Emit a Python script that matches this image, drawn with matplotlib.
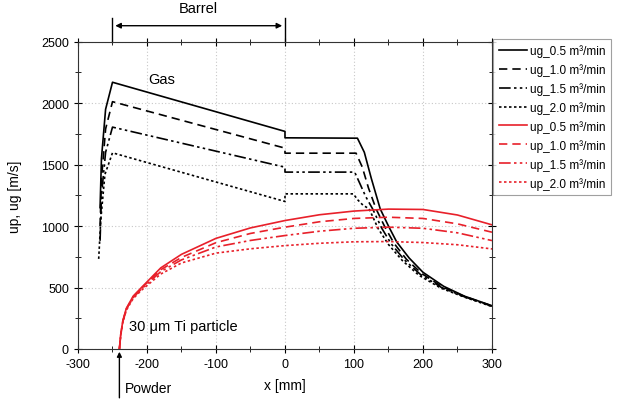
import matplotlib
matplotlib.use("Agg")
import matplotlib.pyplot as plt

plt.rcParams['font.family'] = ['Liberation Sans', 'DejaVu Sans']
plt.rcParams['axes.unicode_minus'] = False

# gas velocity (black), x in mm
ug_x = {
    "0.5": [-268, -266, -260, -250, -125, 0, 0, 105, 115, 125, 138, 150, 162, 180, 200, 230, 260, 300],
    "1.0": [-268, -266, -260, -250, -125, 0, 0, 103, 112, 121, 132, 145, 158, 176, 198, 228, 260, 300],
    "1.5": [-268, -266, -260, -250, -125, 0, 0, 101, 109, 117, 127, 140, 154, 173, 196, 227, 260, 300],
    "2.0": [-270, -267, -261, -250, -125, 0, 0, 99, 106, 113, 122, 135, 150, 170, 194, 226, 260, 300],
}
ug_y = {
    "0.5": [1150, 1550, 1950, 2170, 1970, 1770, 1718, 1715, 1600, 1390, 1140, 1000, 870, 740, 624, 510, 430, 352],
    "1.0": [1000, 1380, 1790, 2012, 1823, 1634, 1593, 1593, 1480, 1310, 1140, 990, 860, 730, 615, 505, 428, 350],
    "1.5": [880, 1250, 1600, 1805, 1642, 1479, 1439, 1439, 1340, 1240, 1140, 985, 855, 725, 608, 500, 425, 348],
    "2.0": [733, 1050, 1420, 1596, 1398, 1200, 1262, 1262, 1210, 1170, 1140, 980, 850, 720, 600, 495, 422, 345],
}

# particle velocity (red)
up_x = [-240, -238, -235, -230, -220, -208, -180, -150, -100, -50, 0, 50, 100, 150, 200, 250, 300]
up_y = {
    "0.5": [0, 120, 230, 330, 430, 500, 660, 770, 900, 985, 1045, 1092, 1122, 1138, 1135, 1090, 1010],
    "1.0": [0, 118, 226, 325, 425, 495, 645, 745, 865, 940, 991, 1035, 1062, 1072, 1062, 1018, 950],
    "1.5": [0, 116, 222, 320, 418, 488, 630, 725, 830, 883, 923, 958, 982, 991, 982, 945, 882],
    "2.0": [0, 114, 218, 315, 410, 478, 610, 700, 780, 815, 841, 860, 872, 874, 866, 848, 814],
}

flows = ["0.5", "1.0", "1.5", "2.0"]
styles = ["-", (0, (5, 3)), (0, (7, 2, 1.5, 2, 1.5, 2)), (0, (1.5, 1.5))]

fig = plt.figure(figsize=(6.2, 4.02), dpi=100)
ax = fig.add_axes([0.1258, 0.1294, 0.6677, 0.7644])

for f, ls in zip(flows, styles):
    ax.plot(ug_x[f], ug_y[f], color="black", ls=ls, lw=1.2,
            label="ug_%s m³/min" % f)
for f, ls in zip(flows, styles):
    ax.plot(up_x, up_y[f], color="#e8202a", ls=ls, lw=1.2,
            label="up_%s m³/min" % f)

ax.set_xlim(-300, 300)
ax.set_ylim(0, 2500)
ax.set_xticks(range(-300, 301, 100))
ax.set_xticks(range(-250, 300, 100), minor=True)
ax.set_yticks(range(0, 2501, 500))
ax.set_yticks(range(250, 2500, 500), minor=True)
ax.grid(True, color="#c8c8c8", ls=(0, (1, 2)), lw=0.8)
ax.tick_params(axis="both", which="both", labelsize=9, top=True, right=True,
               direction="inout")
ax.tick_params(axis="both", which="major", length=6)
ax.tick_params(axis="both", which="minor", length=4)
for s in ax.spines.values():
    s.set_color("#333333")

ax.set_xlabel("x [mm]", fontsize=10, labelpad=6)
ax.set_ylabel("up, ug [m/s]", fontsize=10, labelpad=14)

ax.text(-178, 2200, "Gas", fontsize=10.5, ha="center", va="center")
ax.text(-226, 187, "30 μm Ti particle", fontsize=10.5, ha="left", va="center")

# barrel span above the plot
ax.annotate("", xy=(-250, 2630), xytext=(0, 2630),
            arrowprops=dict(arrowstyle="<|-|>", color="black", lw=1, mutation_scale=8),
            annotation_clip=False)
for xb in (-250, 0):
    ax.plot([xb, xb], [2500, 2690], color="black", lw=1, clip_on=False)
ax.text(-125, 2720, "Barrel", fontsize=10.5, ha="center", va="bottom")

# powder inlet
ax.annotate("", xy=(-240, 0), xytext=(-240, -420),
            arrowprops=dict(arrowstyle="-|>", color="black", lw=1, mutation_scale=7),
            annotation_clip=False)
ax.text(-232, -318, "Powder", fontsize=10, ha="left", va="center")

leg = ax.legend(loc="upper left", bbox_to_anchor=(1.003, 1.01), fontsize=8.5,
                frameon=True, fancybox=False, handlelength=2.4, handletextpad=0.3,
                borderpad=0.45, labelspacing=0.52, borderaxespad=0)
leg.get_frame().set_edgecolor("#888888")
leg.get_frame().set_linewidth(0.8)

fig.savefig("out.png", dpi=100)
